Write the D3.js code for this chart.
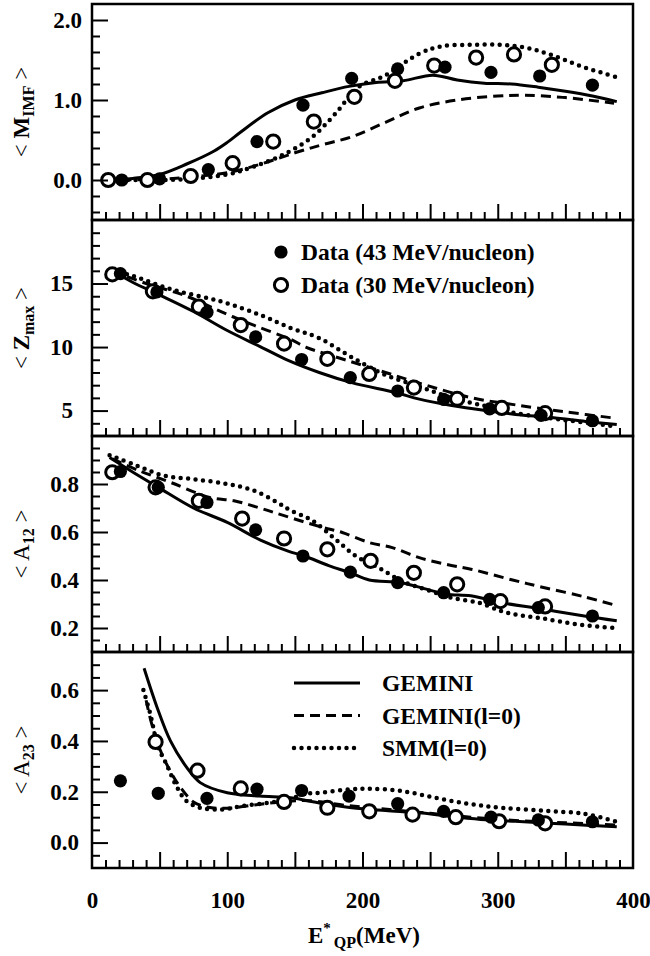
<!DOCTYPE html>
<html>
<head>
<meta charset="utf-8">
<script src="https://cdn.jsdelivr.net/npm/d3@7"></script>
<style>
  body { margin: 0; background: #fff; }
  text { font-family: "Liberation Serif", "Times New Roman", serif; fill: #000; }
</style>
</head>
<body>
<svg id="chart" width="650" height="956"></svg>
<script>
// ---------- data: [E*_QP (MeV), value] ----------
// <M_IMF>
const mimfData43 = [[22,0.0],[50,0.015],[86,0.13],[122,0.48],[156,0.935],[192,1.27],[226,1.39],[261,1.41],[295,1.345],[331,1.30],[370,1.185]];
const mimfData30 = [[12,0.0],[41,0.0],[73,0.05],[104,0.21],[134,0.48],[164,0.73],[194,1.04],[224,1.24],[253,1.43],[284,1.53],[312,1.57],[340,1.44]];
const mimfGemini = [[10,0],[30,0.02],[50,0.07],[70,0.2],[90,0.36],[100,0.47],[110,0.6],[130,0.84],[150,1.0],[170,1.09],[190,1.17],[210,1.22],[230,1.24],[252,1.31],[270,1.25],[290,1.21],[310,1.2],[330,1.16],[350,1.11],[370,1.05],[388,0.98]];
const mimfGeminiL0 = [[10,0],[50,0.01],[80,0.05],[100,0.09],[125,0.2],[150,0.34],[170,0.44],[192,0.54],[217,0.72],[242,0.9],[270,1.0],[300,1.05],[320,1.06],[350,1.03],[386,0.96]];
const mimfSmm = [[10,0],[40,0],[70,0.01],[100,0.07],[120,0.17],[143,0.33],[163,0.54],[180,0.83],[197,1.16],[217,1.31],[242,1.58],[258,1.67],[281,1.69],[303,1.69],[322,1.65],[340,1.56],[362,1.42],[387,1.29]];

// <Z_max>
const zmaxData43 = [[21,15.78],[48,14.34],[85,12.74],[121,10.8],[155,9.02],[191,7.6],[226,6.54],[260,5.88],[294,5.13],[332,4.63],[370,4.2]];
const zmaxData30 = [[15,15.72],[45,14.39],[79,13.19],[110,11.73],[142,10.27],[174,9.07],[205,7.88],[238,6.81],[270,5.93],[303,5.21],[335,4.8]];
const zmaxGemini = [[15,16.0],[30,15.1],[50,14.1],[75,12.8],[100,11.3],[125,10.0],[145,8.95],[168,8.0],[192,7.2],[225,6.4],[242,5.9],[266,5.4],[291,5.0],[313,4.7],[340,4.45],[365,4.15],[388,3.9]];
const zmaxGeminiL0 = [[15,16.0],[40,15.0],[70,14.0],[95,12.8],[120,11.7],[147,10.6],[158,10.0],[190,8.9],[217,8.0],[247,7.0],[281,6.0],[313,5.45],[350,4.9],[387,4.4]];
const zmaxSmm = [[15,16.0],[30,15.6],[60,14.5],[95,13.6],[125,12.5],[147,11.5],[168,10.7],[192,9.2],[217,7.8],[242,6.9],[266,6.0],[291,5.35],[313,4.8],[350,4.25],[388,3.75]];

// <A_12>
const a12Data43 = [[21,0.852],[49,0.786],[85,0.723],[121,0.609],[156,0.50],[191,0.433],[226,0.389],[260,0.347],[294,0.319],[330,0.285],[370,0.25]];
const a12Data30 = [[15,0.849],[47,0.786],[79,0.73],[111,0.656],[142,0.573],[174,0.528],[206,0.48],[238,0.43],[270,0.382],[302,0.312],[335,0.29]];
const a12Gemini = [[13,0.91],[30,0.85],[49,0.786],[75,0.70],[100,0.64],[125,0.565],[145,0.52],[157,0.50],[175,0.46],[191,0.43],[205,0.40],[228,0.39],[245,0.365],[262,0.341],[280,0.334],[302,0.306],[333,0.279],[364,0.25],[388,0.23]];
const a12GeminiL0 = [[15,0.905],[35,0.855],[58,0.807],[87,0.744],[105,0.73],[124,0.70],[142,0.668],[170,0.62],[185,0.598],[205,0.556],[222,0.535],[242,0.493],[262,0.465],[281,0.444],[311,0.40],[333,0.37],[364,0.33],[388,0.293]];
const a12Smm = [[13,0.92],[33,0.877],[53,0.835],[75,0.82],[100,0.80],[120,0.772],[137,0.723],[147,0.69],[163,0.647],[180,0.57],[195,0.50],[212,0.451],[229,0.396],[247,0.36],[266,0.326],[286,0.305],[303,0.27],[313,0.256],[333,0.24],[358,0.216],[386,0.20]];

// <A_23>
const a23Data43 = [[21,0.243],[49,0.194],[85,0.174],[122,0.21],[155,0.205],[190,0.183],[226,0.153],[260,0.123],[295,0.10],[330,0.089],[370,0.082]];
const a23Data30 = [[47,0.396],[78,0.283],[110,0.213],[142,0.16],[174,0.137],[205,0.123],[237,0.11],[269,0.10],[301,0.084],[335,0.076]];
const a23Gemini = [[38.5,0.686],[48,0.534],[58,0.40],[70,0.296],[80,0.236],[100,0.196],[124,0.183],[147,0.176],[168,0.156],[192,0.137],[217,0.126],[242,0.117],[266,0.103],[291,0.09],[313,0.084],[350,0.073],[388,0.062]];
const a23GeminiL0 = [[40,0.56],[44,0.47],[50,0.37],[57,0.29],[65,0.22],[75,0.16],[85,0.14],[100,0.135],[120,0.148],[140,0.16],[160,0.165],[190,0.145],[220,0.13],[250,0.115],[280,0.1],[310,0.088],[350,0.078],[388,0.069]];
const a23Smm = [[38,0.60],[43,0.508],[49,0.375],[55,0.309],[63,0.216],[70,0.163],[80,0.137],[95,0.13],[110,0.143],[129,0.156],[147,0.17],[155,0.19],[168,0.196],[192,0.21],[207,0.212],[229,0.203],[254,0.176],[279,0.152],[303,0.137],[335,0.125],[364,0.113],[388,0.082]];

// ---------- axis ticks ----------
const xMajorTicks = [50,100,150,200,250,300,350];
const xMinorTicks = d3.range(10, 400, 10).filter(v => v % 50 !== 0);
const xLabelTicks = [0,100,200,300,400];

const mimfMajor = [0,1,2];
const mimfMinor = [-0.4,-0.2,0.2,0.4,0.6,0.8,1.2,1.4,1.6,1.8];
const zmaxMajor = [5,10,15];
const zmaxMinor = [4,6,7,8,9,11,12,13,14,16,17,18,19];
const a12Major = [0.2,0.4,0.6,0.8];
const a12Minor = [0.15,0.25,0.3,0.35,0.45,0.5,0.55,0.65,0.7,0.75,0.85,0.9,0.95];
const a23Major = [0.0,0.2,0.4,0.6];
const a23Minor = [-0.05,0.05,0.1,0.15,0.25,0.3,0.35,0.45,0.5,0.55,0.65,0.7];

const legendData = ["Data (43 MeV/nucleon)", "Data (30 MeV/nucleon)"];
const legendModels = ["GEMINI", "GEMINI(l=0)", "SMM(l=0)"];

// ---------- layout ----------
const svg = d3.select("#chart");
const L = 92, R = 633, PH = 216;
const x = d3.scaleLinear().domain([0, 400]).range([L, R]);

const styles = {
  gemini:   { "stroke-width": 3,   "stroke-dasharray": null },
  geminiL0: { "stroke-width": 3,   "stroke-dasharray": "10 6" },
  smm:      { "stroke-width": 4.5, "stroke-dasharray": "0 7.5", "stroke-linecap": "round" }
};

const panels = [
  { top: 4,   domain: [-0.5, 2.2], major: mimfMajor, minor: mimfMinor, fmt: d3.format(".1f"), pad: 10,
    title: ["M", "IMF", true], d43: mimfData43, d30: mimfData30, gem: mimfGemini, gem0: mimfGeminiL0, smm: mimfSmm },
  { top: 220, domain: [3, 20], major: zmaxMajor, minor: zmaxMinor, fmt: d3.format("d"), pad: 19,
    title: ["Z", "max", true], d43: zmaxData43, d30: zmaxData30, gem: zmaxGemini, gem0: zmaxGeminiL0, smm: zmaxSmm },
  { top: 436, domain: [0.1, 1.0], major: a12Major, minor: a12Minor, fmt: d3.format(".1f"), pad: 13,
    title: ["A", "12", false], d43: a12Data43, d30: a12Data30, gem: a12Gemini, gem0: a12GeminiL0, smm: a12Smm },
  { top: 652, domain: [-0.1, 0.75], major: a23Major, minor: a23Minor, fmt: d3.format(".1f"), pad: 13,
    title: ["A", "23", false], d43: a23Data43, d30: a23Data30, gem: a23Gemini, gem0: a23GeminiL0, smm: a23Smm }
];

function styleAxis(g) {
  g.select(".domain").remove();
  g.selectAll(".tick line").attr("stroke", "#000").attr("stroke-width", 2);
  g.selectAll(".tick text").attr("font-size", 23).attr("font-weight", "bold")
    .attr("font-family", '"Liberation Serif","Times New Roman",serif').attr("fill", "#000");
}

panels.forEach((p, i) => {
  const bottom = p.top + PH;
  const y = d3.scaleLinear().domain(p.domain).range([bottom, p.top]);
  const g = svg.append("g");

  // model curves
  const line = d3.line().x(d => x(d[0])).y(d => y(d[1])).curve(d3.curveCatmullRom.alpha(0.5));
  [["gem0", "geminiL0"], ["smm", "smm"], ["gem", "gemini"]].forEach(([key, st]) => {
    const path = g.append("path").datum(p[key]).attr("d", line)
      .attr("fill", "none").attr("stroke", "#000").attr("stroke-linejoin", "round");
    Object.entries(styles[st]).forEach(([k, v]) => { if (v !== null) path.attr(k, v); });
  });

  // data points
  g.selectAll(".d30").data(p.d30).join("circle")
    .attr("cx", d => x(d[0])).attr("cy", d => y(d[1])).attr("r", 6.6)
    .attr("fill", "#fff").attr("stroke", "#000").attr("stroke-width", 3);
  g.selectAll(".d43").data(p.d43).join("circle")
    .attr("cx", d => x(d[0])).attr("cy", d => y(d[1])).attr("r", 6.6)
    .attr("fill", "#000");

  // axes
  g.append("g").attr("transform", `translate(${L},0)`)
    .call(d3.axisLeft(y).tickValues(p.minor).tickSize(-8).tickFormat("")).call(styleAxis);
  g.append("g").attr("transform", `translate(${L},0)`)
    .call(d3.axisLeft(y).tickValues(p.major).tickSize(-16).tickPadding(p.pad).tickFormat(p.fmt)).call(styleAxis);
  g.append("g").attr("transform", `translate(0,${bottom})`)
    .call(d3.axisBottom(x).tickValues(xMinorTicks).tickSize(-8).tickFormat("")).call(styleAxis);
  g.append("g").attr("transform", `translate(0,${bottom})`)
    .call(d3.axisBottom(x).tickValues(xMajorTicks).tickSize(-16).tickFormat("")).call(styleAxis);

  // frame
  g.append("rect").attr("x", L).attr("y", p.top).attr("width", R - L).attr("height", PH)
    .attr("fill", "none").attr("stroke", "#000").attr("stroke-width", 2.5);

  // y title
  const t = svg.append("text")
    .attr("transform", `translate(29,${p.top + PH / 2}) rotate(-90)`)
    .attr("text-anchor", "middle").attr("font-size", 23);
  t.append("tspan").text("< ");
  t.append("tspan").attr("font-weight", p.title[2] ? "bold" : "normal").text(p.title[0]);
  t.append("tspan").attr("font-weight", "bold").attr("font-size", 16).attr("dy", 5).text(p.title[1]);
  t.append("tspan").attr("dy", -5).text(" >");

  if (i === 3) {
    g.append("g").attr("transform", `translate(0,${bottom})`)
      .call(d3.axisBottom(x).tickValues(xLabelTicks).tickSize(0).tickPadding(24).tickFormat(d3.format("d")))
      .call(styleAxis);
  }
});

// legend: data markers (panel 2)
const lg1 = svg.append("g");
legendData.forEach((s, k) => {
  const cy = 252 + k * 33;
  if (k === 0) lg1.append("circle").attr("cx", 281).attr("cy", cy).attr("r", 6.6).attr("fill", "#000");
  else lg1.append("circle").attr("cx", 281).attr("cy", cy).attr("r", 6.6).attr("fill", "#fff")
         .attr("stroke", "#000").attr("stroke-width", 3);
  lg1.append("text").attr("x", 301).attr("y", cy + 8).attr("font-size", 23.5).attr("font-weight", "bold").text(s);
});

// legend: model curves (panel 4)
const lg2 = svg.append("g");
const lkeys = ["gemini", "geminiL0", "smm"];
legendModels.forEach((s, k) => {
  const cy = 683 + k * 32.5;
  const ln = lg2.append("line").attr("x1", 294).attr("x2", k === 2 ? 356 : 360).attr("y1", cy).attr("y2", cy)
    .attr("stroke", "#000");
  Object.entries(styles[lkeys[k]]).forEach(([a, v]) => { if (v !== null) ln.attr(a, v); });
  lg2.append("text").attr("x", 382).attr("y", cy + 8).attr("font-size", 23.5).attr("font-weight", "bold").text(s);
});

// x-axis title
const xt = svg.append("text").attr("x", 308).attr("y", 943).attr("font-size", 23).attr("font-weight", "bold");
xt.append("tspan").text("E");
xt.append("tspan").attr("font-size", 15).attr("dy", -10).text("*");
xt.append("tspan").attr("font-size", 16).attr("dx", 3).attr("dy", 15).text("QP");
xt.append("tspan").attr("dy", -5).text("(MeV)");
</script>
</body>
</html>
